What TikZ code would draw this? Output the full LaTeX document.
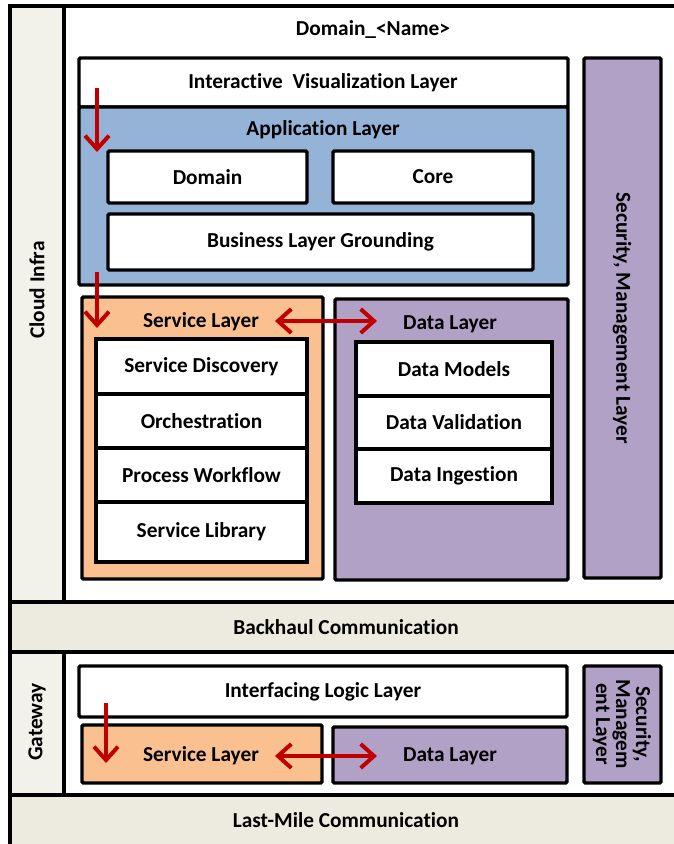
\documentclass[tikz,border=0pt]{standalone}
\usepackage{fontspec}
\setmainfont{Carlito}[Ligatures={NoCommon,NoContextual}]
\usetikzlibrary{arrows.meta,fit}
\definecolor{colcream}{HTML}{F2F1EA}
\definecolor{bandcream}{HTML}{EDEBE0}
\definecolor{appblue}{HTML}{95B3D7}
\definecolor{svcorange}{HTML}{FAC090}
\definecolor{datapurple}{HTML}{B2A1C7}
\definecolor{flowred}{HTML}{C00000}
\tikzset{
  lblfont/.style={font=\bfseries\fontsize{16}{17}\selectfont},
  txt/.style={lblfont, inner sep=0pt, align=center},
  region/.style={draw=black, line width=3pt, inner sep=0pt},
  layer/.style={draw=black, line width=2.6pt, inner sep=0pt, rounded corners=1pt},
  cell/.style={layer, rounded corners=0pt, fill=white},
  inlbl/.style={label={[txt]center:#1}},
  flow/.style={draw=flowred, line width=3pt,
    >={Straight Barb[length=10pt, width=18pt, line width=3pt]}},
}
\begin{document}
\begin{tikzpicture}[x=0.75pt, y=-0.75pt]
\useasboundingbox[fill=white] (0,0) rectangle (674,844);
\begin{scope}
\clip (0,0) rectangle (674,844);

% ---- outer regions (the frame runs past the right and bottom edges) ----
\node[region, fill=colcream, fit={(10,6) (64,602)}] (cloudcol) {};
\node[region, fill=white, fit={(64,6) (700,602)}] (domainarea) {};
\node[region, fill=bandcream, fit={(10,602) (700,652)}] (backhaul) {};
\node[region, fill=colcream, fit={(10,652) (64,795)}] (gatecol) {};
\node[region, fill=white, fit={(64,652) (700,795)}] (gatearea) {};
\node[region, fill=bandcream, fit={(10,795) (700,870)}] (lastmile) {};

\node[txt, rotate=90] (cloudtxt) at (37,290) {Cloud Infra};
\node[txt, rotate=90] (gatetxt) at (37,722) {Gateway};
\node[txt] (domaintitle) at (373,29) {Domain\_<Name>};
\node[txt] (backhaultxt) at (346,627) {Backhaul Communication};
\node[txt] (lastmiletxt) at (346,820) {Last-Mile Communication};

% ---- cloud domain stack ----
\node[layer, fill=white, fit={(79,58) (568,107)}] (ivl) {};
\node[txt] (ivltxt) at (323,83) {Interactive~~Visualization Layer};
\node[layer, fill=appblue, fit={(79,107) (568,285)}] (app) {};
\node[txt] (apptxt) at (323,130) {Application Layer};
\node[layer, fill=white, inlbl=Domain, fit={(108,151) (307,203)}] (domainbox) {};
\node[layer, fill=white, inlbl=Core, fit={(333,151) (533,203)}] (corebox) {};
\node[layer, fill=white, inlbl=Business Layer Grounding, fit={(108,214) (533,270)}] (bizbox) {};

\node[layer, fill=svcorange, fit={(82,297) (323,579)}] (svc) {};
\node[txt] (svctxt) at (201,322) {Service Layer};
\node[cell, inlbl=Service Discovery, fit={(96,339) (307,394)}] (sdisc) {};
\node[cell, inlbl=Orchestration, fit={(96,394) (307,448)}] (orch) {};
\node[cell, inlbl=Process Workflow, fit={(96,448) (307,502)}] (pwf) {};
\node[cell, inlbl=Service Library, fit={(96,502) (307,562)}] (slib) {};

\node[layer, fill=datapurple, fit={(335,299) (568,580)}] (data) {};
\node[txt] (datatxt) at (450,324) {Data Layer};
\node[cell, inlbl=Data Models, fit={(356,342) (552,396)}] (dmod) {};
\node[cell, inlbl=Data Validation, fit={(356,396) (552,449)}] (dval) {};
\node[cell, inlbl=Data Ingestion, fit={(356,449) (552,503)}] (ding) {};

\node[layer, fill=datapurple, fit={(584,58) (661,578)}] (secbox) {};
\node[txt, rotate=-90] (sectxt) at (622,318) {Security, Management Layer};

% ---- gateway stack ----
\node[layer, fill=white, inlbl=Interfacing Logic Layer, fit={(79,666) (567,717)}] (ill) {};
\node[layer, fill=svcorange, fit={(82,725) (322,783)}] (gsvc) {};
\node[txt] (gsvctxt) at (201,756) {Service Layer};
\node[layer, fill=datapurple, fit={(333,727) (567,783)}] (gdata) {};
\node[txt] (gdatatxt) at (450,756) {Data Layer};
\node[layer, fill=datapurple, fit={(584,666) (661,783)}] (gsec) {};
\node[txt, rotate=-90, font=\bfseries\fontsize{16}{15}\selectfont] (gsectxt) at (622,724)
  {Security,\\Managem\\ent Layer};

% ---- flow arrows ----
\coordinate (f1s) at (97,88);  \coordinate (f1e) at (97,152);
\coordinate (f2s) at (97,272); \coordinate (f2e) at (97,328);
\coordinate (f3s) at (106,703); \coordinate (f3e) at (106,763);
\coordinate (d1a) at (275,321); \coordinate (d1b) at (377,321);
\coordinate (d2a) at (275,756); \coordinate (d2b) at (377,756);
\draw[flow, ->] (f1s) -- (f1e);
\draw[flow, ->] (f2s) -- (f2e);
\draw[flow, ->] (f3s) -- (f3e);
\draw[flow, <->] (d1a) -- (d1b);
\draw[flow, <->] (d2a) -- (d2b);
\end{scope}
\end{tikzpicture}
\end{document}
